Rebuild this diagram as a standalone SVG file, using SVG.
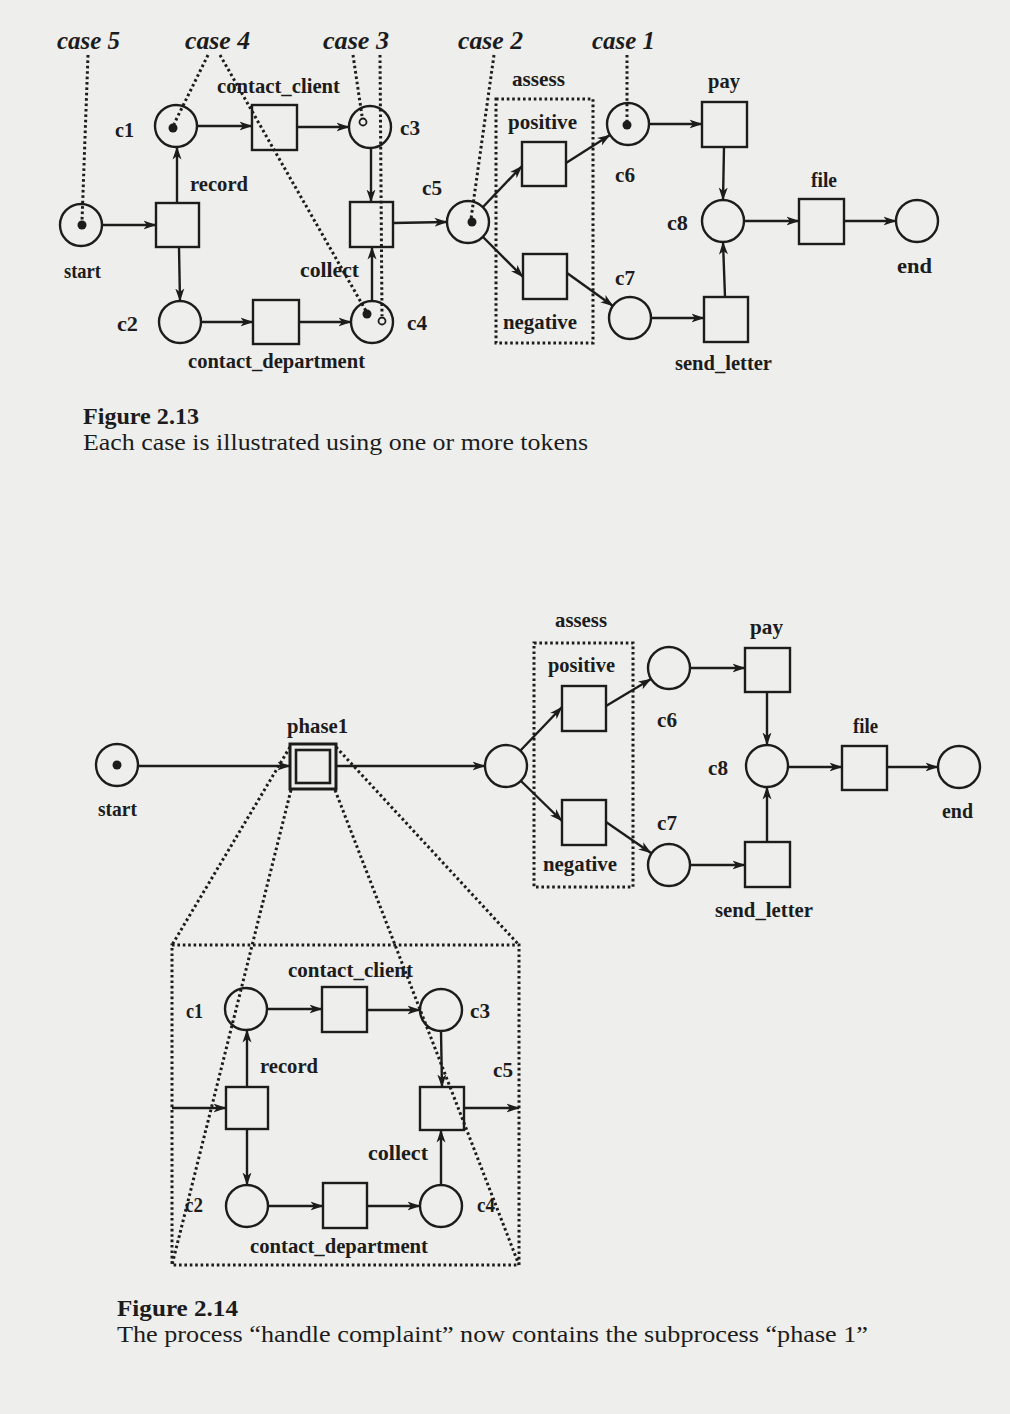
<svg xmlns="http://www.w3.org/2000/svg" width="1010" height="1414" viewBox="0 0 1010 1414">
<defs>
<style>
.bg{fill:#eeeeec}
.pl{fill:#eeeeec;stroke:#1c1c1c;stroke-width:2.4}
.tr{fill:#eeeeec;stroke:#1c1c1c;stroke-width:2.4}
.tok{fill:#1c1c1c}
.htok{fill:#eeeeec;stroke:#1c1c1c;stroke-width:1.8}
.arc{stroke:#1c1c1c;stroke-width:2.4;fill:none;marker-end:url(#ah)}
.dot{stroke:#1c1c1c;stroke-width:3;fill:none;stroke-dasharray:2.6 2.8}
.lb{font-family:"Liberation Serif","Times New Roman",serif;font-size:21px;font-weight:bold;fill:#1c1c1c}
.cs{font-family:"Liberation Serif","Times New Roman",serif;font-size:25px;font-style:italic;font-weight:bold;fill:#1c1c1c}
.cap{font-family:"Liberation Serif","Times New Roman",serif;font-size:24px;fill:#1c1c1c}
.capb{font-family:"Liberation Serif","Times New Roman",serif;font-size:24px;font-weight:bold;fill:#1c1c1c}
</style>
<marker id="ah" viewBox="0 0 13 10" refX="12.5" refY="5" markerWidth="13" markerHeight="10" markerUnits="userSpaceOnUse" orient="auto">
<path d="M0,0.5 L13,5 L0,9.5 L3.5,5 Z" fill="#1c1c1c"/>
</marker>
</defs>
<rect class="bg" x="0" y="0" width="1010" height="1414"/>

<!-- ===== Figure 2.13 ===== -->
<g id="fig213-nodes">
<g id="t-start"><circle class="pl" cx="81" cy="225" r="21"/><circle class="tok" cx="82" cy="225" r="4.5"/><text class="lb" x="64" y="278" textLength="37" lengthAdjust="spacingAndGlyphs">start</text></g>
<g id="t-record"><rect class="tr" x="156" y="203" width="43" height="44"/><text class="lb" x="190" y="191" textLength="58" lengthAdjust="spacingAndGlyphs">record</text></g>
<g id="t-c1"><circle class="pl" cx="176" cy="126" r="21"/><circle class="tok" cx="173" cy="128" r="4.5"/><text class="lb" x="115" y="137" textLength="19" lengthAdjust="spacingAndGlyphs">c1</text></g>
<g id="t-c2"><circle class="pl" cx="180" cy="322" r="21"/><text class="lb" x="117" y="331" textLength="21" lengthAdjust="spacingAndGlyphs">c2</text></g>
<g id="t-contact_client"><rect class="tr" x="252" y="105" width="45" height="45"/><text class="lb" x="217" y="93" textLength="123" lengthAdjust="spacingAndGlyphs">contact_client</text></g>
<g id="t-c3"><circle class="pl" cx="370" cy="127" r="21"/><text class="lb" x="400" y="135" textLength="20" lengthAdjust="spacingAndGlyphs">c3</text></g>
<g id="t-contact_department"><rect class="tr" x="253" y="300" width="46" height="44"/><text class="lb" x="188" y="368" textLength="177" lengthAdjust="spacingAndGlyphs">contact_department</text></g>
<g id="t-c4"><circle class="pl" cx="372" cy="322" r="21"/><text class="lb" x="407" y="330" textLength="20" lengthAdjust="spacingAndGlyphs">c4</text></g>
<g id="t-collect"><rect class="tr" x="350" y="202" width="43" height="45"/><text class="lb" x="300" y="277" textLength="59" lengthAdjust="spacingAndGlyphs">collect</text></g>
<g id="t-c5"><circle class="pl" cx="468" cy="222" r="21"/><circle class="tok" cx="472" cy="222" r="4.5"/><text class="lb" x="422" y="195" textLength="20" lengthAdjust="spacingAndGlyphs">c5</text></g>
<g id="t-positive"><rect class="tr" x="522" y="142" width="44" height="44"/><text class="lb" x="508" y="129" textLength="69" lengthAdjust="spacingAndGlyphs">positive</text></g>
<g id="t-negative"><rect class="tr" x="523" y="254" width="44" height="45"/><text class="lb" x="503" y="329" textLength="74" lengthAdjust="spacingAndGlyphs">negative</text></g>
<g id="t-c6"><circle class="pl" cx="628" cy="124" r="21"/><circle class="tok" cx="627" cy="125" r="4.5"/><text class="lb" x="615" y="182" textLength="20" lengthAdjust="spacingAndGlyphs">c6</text></g>
<g id="t-c7"><circle class="pl" cx="630" cy="318" r="21"/><text class="lb" x="615" y="285" textLength="20" lengthAdjust="spacingAndGlyphs">c7</text></g>
<g id="t-pay"><rect class="tr" x="702" y="102" width="45" height="45"/><text class="lb" x="708" y="88" textLength="32" lengthAdjust="spacingAndGlyphs">pay</text></g>
<g id="t-send_letter"><rect class="tr" x="704" y="297" width="44" height="45"/><text class="lb" x="675" y="370" textLength="97" lengthAdjust="spacingAndGlyphs">send_letter</text></g>
<g id="t-c8"><circle class="pl" cx="723" cy="221" r="21"/><text class="lb" x="667" y="230" textLength="21" lengthAdjust="spacingAndGlyphs">c8</text></g>
<g id="t-file"><rect class="tr" x="799" y="199" width="45" height="45"/><text class="lb" x="811" y="187" textLength="26" lengthAdjust="spacingAndGlyphs">file</text></g>
<g id="t-end"><circle class="pl" cx="917" cy="221" r="21"/><text class="lb" x="897" y="273" textLength="35" lengthAdjust="spacingAndGlyphs">end</text></g>
</g>

<g id="fig213-connectors">
<line class="arc" x1="102" y1="225" x2="156" y2="225"/>
<line class="arc" x1="177" y1="203" x2="177" y2="147"/>
<line class="arc" x1="179" y1="247" x2="180" y2="301"/>
<line class="arc" x1="197" y1="126" x2="252" y2="126"/>
<line class="arc" x1="297" y1="127" x2="349" y2="127"/>
<line class="arc" x1="201" y1="322" x2="253" y2="322"/>
<line class="arc" x1="299" y1="322" x2="351" y2="322"/>
<line class="arc" x1="371" y1="148" x2="371" y2="202"/>
<line class="arc" x1="372" y1="301" x2="372" y2="247"/>
<line class="arc" x1="393" y1="223" x2="447" y2="222"/>
<line class="arc" x1="483" y1="207" x2="522" y2="166"/>
<line class="arc" x1="483" y1="237" x2="523" y2="277"/>
<line class="arc" x1="566" y1="163" x2="610" y2="135"/>
<line class="arc" x1="567" y1="273" x2="613" y2="306"/>
<line class="arc" x1="649" y1="124" x2="702" y2="124"/>
<line class="arc" x1="651" y1="318" x2="704" y2="318"/>
<line class="arc" x1="724" y1="147" x2="723" y2="200"/>
<line class="arc" x1="725" y1="297" x2="723" y2="242"/>
<line class="arc" x1="744" y1="221" x2="799" y2="221"/>
<line class="arc" x1="844" y1="221" x2="896" y2="221"/>
</g>

<g id="fig213-annotations">
<rect class="dot" x="496" y="99" width="97" height="244"/>
<line class="dot" x1="88" y1="55" x2="82" y2="221"/>
<line class="dot" x1="208" y1="55" x2="174" y2="124"/>
<line class="dot" x1="220" y1="55" x2="366" y2="311"/>
<line class="dot" x1="353" y1="55" x2="362" y2="116"/>
<line class="dot" x1="380" y1="55" x2="382" y2="316"/>
<line class="dot" x1="494" y1="55" x2="471" y2="219"/>
<line class="dot" x1="627" y1="55" x2="627" y2="121"/>
<circle class="htok" cx="363" cy="122" r="3.5"/>
<circle class="tok" cx="367" cy="314" r="4.5"/>
<circle class="htok" cx="382" cy="321" r="3.5"/>
<text class="cs" x="57" y="49" textLength="63" lengthAdjust="spacingAndGlyphs">case 5</text>
<text class="cs" x="185" y="49" textLength="65" lengthAdjust="spacingAndGlyphs">case 4</text>
<text class="cs" x="323" y="49" textLength="66" lengthAdjust="spacingAndGlyphs">case 3</text>
<text class="cs" x="458" y="49" textLength="65" lengthAdjust="spacingAndGlyphs">case 2</text>
<text class="cs" x="592" y="49" textLength="63" lengthAdjust="spacingAndGlyphs">case 1</text>
<text class="lb" x="512" y="86" textLength="53" lengthAdjust="spacingAndGlyphs">assess</text>
</g>

<g id="caption213">
<text class="capb" x="83" y="424" textLength="116" lengthAdjust="spacingAndGlyphs">Figure 2.13</text>
<text class="cap" x="83" y="450" textLength="505" lengthAdjust="spacingAndGlyphs">Each case is illustrated using one or more tokens</text>
</g>

<!-- ===== Figure 2.14 ===== -->
<g id="fig214-nodes">
<g id="b-start"><circle class="pl" cx="117" cy="765" r="21"/><circle class="tok" cx="117" cy="765" r="4.5"/><text class="lb" x="98" y="816" textLength="39" lengthAdjust="spacingAndGlyphs">start</text></g>
<g id="b-phase1"><rect fill="#eeeeec" stroke="#1c1c1c" stroke-width="3" x="290" y="744" width="46" height="45"/><rect fill="#eeeeec" stroke="#1c1c1c" stroke-width="2.6" x="296" y="750" width="34" height="33"/><text class="lb" x="287" y="733" textLength="61" lengthAdjust="spacingAndGlyphs">phase1</text></g>
<g id="b-c5"><circle class="pl" cx="506" cy="766" r="21"/></g>
<g id="b-positive"><rect class="tr" x="562" y="686" width="44" height="45"/><text class="lb" x="548" y="672" textLength="67" lengthAdjust="spacingAndGlyphs">positive</text></g>
<g id="b-negative"><rect class="tr" x="562" y="800" width="44" height="45"/><text class="lb" x="543" y="871" textLength="74" lengthAdjust="spacingAndGlyphs">negative</text></g>
<g id="b-c6"><circle class="pl" cx="669" cy="668" r="21"/><text class="lb" x="657" y="727" textLength="20" lengthAdjust="spacingAndGlyphs">c6</text></g>
<g id="b-c7"><circle class="pl" cx="669" cy="865" r="21"/><text class="lb" x="657" y="830" textLength="20" lengthAdjust="spacingAndGlyphs">c7</text></g>
<g id="b-pay"><rect class="tr" x="745" y="648" width="45" height="44"/><text class="lb" x="750" y="634" textLength="33" lengthAdjust="spacingAndGlyphs">pay</text></g>
<g id="b-send_letter"><rect class="tr" x="745" y="842" width="45" height="45"/><text class="lb" x="715" y="917" textLength="98" lengthAdjust="spacingAndGlyphs">send_letter</text></g>
<g id="b-c8"><circle class="pl" cx="767" cy="766" r="21"/><text class="lb" x="708" y="775" textLength="20" lengthAdjust="spacingAndGlyphs">c8</text></g>
<g id="b-file"><rect class="tr" x="842" y="746" width="45" height="44"/><text class="lb" x="853" y="733" textLength="25" lengthAdjust="spacingAndGlyphs">file</text></g>
<g id="b-end"><circle class="pl" cx="959" cy="767" r="21"/><text class="lb" x="942" y="818" textLength="31" lengthAdjust="spacingAndGlyphs">end</text></g>

<g id="s-c1"><circle class="pl" cx="246" cy="1009" r="21"/><text class="lb" x="186" y="1018" textLength="17" lengthAdjust="spacingAndGlyphs">c1</text></g>
<g id="s-contact_client"><rect class="tr" x="322" y="987" width="45" height="45"/><text class="lb" x="288" y="977" textLength="125" lengthAdjust="spacingAndGlyphs">contact_client</text></g>
<g id="s-c3"><circle class="pl" cx="441" cy="1010" r="21"/><text class="lb" x="470" y="1018" textLength="20" lengthAdjust="spacingAndGlyphs">c3</text></g>
<g id="s-record"><rect class="tr" x="226" y="1087" width="42" height="42"/><text class="lb" x="260" y="1073" textLength="58" lengthAdjust="spacingAndGlyphs">record</text></g>
<g id="s-collect"><rect class="tr" x="420" y="1087" width="44" height="43"/><text class="lb" x="368" y="1160" textLength="60" lengthAdjust="spacingAndGlyphs">collect</text></g>
<g id="s-c2"><circle class="pl" cx="247" cy="1206" r="21"/><text class="lb" x="185" y="1212" textLength="18" lengthAdjust="spacingAndGlyphs">c2</text></g>
<g id="s-contact_department"><rect class="tr" x="323" y="1183" width="44" height="45"/><text class="lb" x="250" y="1253" textLength="178" lengthAdjust="spacingAndGlyphs">contact_department</text></g>
<g id="s-c4"><circle class="pl" cx="441" cy="1206" r="21"/><text class="lb" x="477" y="1212" textLength="18" lengthAdjust="spacingAndGlyphs">c4</text></g>
<text class="lb" x="493" y="1077" textLength="20" lengthAdjust="spacingAndGlyphs">c5</text>
</g>

<g id="fig214-connectors">
<line class="arc" x1="138" y1="766" x2="290" y2="766"/>
<line class="arc" x1="336" y1="766" x2="485" y2="766"/>
<line class="arc" x1="520" y1="751" x2="562" y2="707"/>
<line class="arc" x1="521" y1="781" x2="562" y2="821"/>
<line class="arc" x1="606" y1="706" x2="651" y2="679"/>
<line class="arc" x1="606" y1="822" x2="651" y2="853"/>
<line class="arc" x1="690" y1="668" x2="745" y2="668"/>
<line class="arc" x1="690" y1="865" x2="745" y2="865"/>
<line class="arc" x1="767" y1="692" x2="767" y2="745"/>
<line class="arc" x1="767" y1="842" x2="767" y2="787"/>
<line class="arc" x1="788" y1="767" x2="842" y2="767"/>
<line class="arc" x1="887" y1="767" x2="938" y2="767"/>

<line class="arc" x1="172" y1="1108" x2="226" y2="1108"/>
<line class="arc" x1="464" y1="1108" x2="519" y2="1108"/>
<line class="arc" x1="247" y1="1087" x2="247" y2="1030"/>
<line class="arc" x1="247" y1="1129" x2="247" y2="1185"/>
<line class="arc" x1="267" y1="1009" x2="322" y2="1009"/>
<line class="arc" x1="367" y1="1010" x2="420" y2="1010"/>
<line class="arc" x1="441" y1="1031" x2="442" y2="1087"/>
<line class="arc" x1="441" y1="1185" x2="441" y2="1130"/>
<line class="arc" x1="268" y1="1206" x2="323" y2="1206"/>
<line class="arc" x1="367" y1="1206" x2="420" y2="1206"/>
</g>

<g id="fig214-annotations">
<rect class="dot" x="534" y="643" width="99" height="244"/>
<rect class="dot" x="172" y="945" width="347" height="320"/>
<line class="dot" x1="290" y1="747" x2="172" y2="945"/>
<line class="dot" x1="291" y1="790" x2="172" y2="1265"/>
<line class="dot" x1="336" y1="747" x2="519" y2="945"/>
<line class="dot" x1="335" y1="790" x2="519" y2="1265"/>
<text class="lb" x="555" y="627" textLength="52" lengthAdjust="spacingAndGlyphs">assess</text>
</g>

<g id="caption214">
<text class="capb" x="117" y="1316" textLength="121" lengthAdjust="spacingAndGlyphs">Figure 2.14</text>
<text class="cap" x="117" y="1342" textLength="751" lengthAdjust="spacingAndGlyphs">The process “handle complaint” now contains the subprocess “phase 1”</text>
</g>
</svg>
